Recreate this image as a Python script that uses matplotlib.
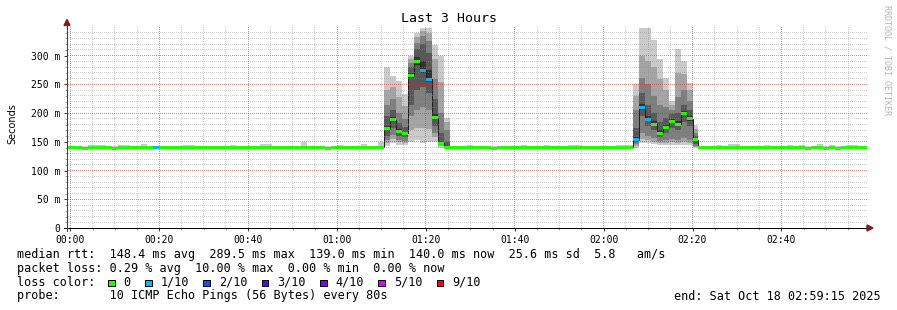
import matplotlib
matplotlib.use("Agg")
import numpy as np
import matplotlib.pyplot as plt
from matplotlib.patches import Rectangle, Polygon
from matplotlib.lines import Line2D
from matplotlib.ticker import FixedLocator

# ---------------- data ----------------
title = "Last 3 Hours"
y_label = "Seconds"
watermark = "RRDTOOL / TOBI OETIKER"

step_minutes = 80 / 60          # one RRD step = 80 s
first_step = -1                 # step index of first column (relative to 00:00)
x_range = (-0.75, 179.25)       # minutes after 00:00 (23:59:15 .. 02:59:15)
y_range = (0, 350)              # ms

x_tick_pos = [0, 20, 40, 60, 80, 100, 120, 140, 160]
x_tick_labels = ["00:00", "00:20", "00:40", "01:00", "01:20", "01:40", "02:00", "02:20", "02:40"]
y_tick_pos = [0, 50, 100, 150, 200, 250, 300]
y_tick_labels = ["0", "50 m", "100 m", "150 m", "200 m", "250 m", "300 m"]
y_minor_pos = [10, 20, 30, 40, 60, 70, 80, 90, 110, 120, 130, 140, 160, 170, 180, 190,
               210, 220, 230, 240, 260, 270, 280, 290, 310, 320, 330, 340]
x_minor_pos = [5, 10, 15, 25, 30, 35, 45, 50, 55, 65, 70, 75, 85, 90, 95, 105, 110, 115,
               125, 130, 135, 145, 150, 155, 165, 170, 175]

# median rtt per step (ms), steps -1 .. 134
median_ms = [
    140.3, 140.3, 140.3, 139.0, 140.3, 140.3, 140.3, 140.3, 139.0, 140.3,   # -1..8
    140.3, 140.3, 140.3, 140.3, 140.3, 139.8, 140.3, 140.3, 140.3, 140.3,   # 9..18
    140.3, 140.3, 140.3, 140.3, 140.3, 140.3, 140.3, 140.3, 140.3, 140.3,   # 19..28
    140.3, 140.3, 140.3, 140.3, 140.3, 140.3, 140.3, 140.3, 140.3, 140.3,   # 29..38
    140.3, 140.3, 140.3, 140.3, 139.0, 140.3, 140.3, 140.3, 140.3, 140.3,   # 39..48
    140.3, 140.3, 140.3, 140.3,                                             # 49..52
    172.7, 188.4, 168.0, 165.0, 265.7, 289.5, 274.4, 259.3, 192.4, 147.7, 140.7,  # 53..63
    140.3, 140.3, 140.3, 140.3, 140.3, 140.3, 140.3, 139.0, 140.3, 140.3,   # 64..73
    140.3, 140.3, 140.3, 140.3, 140.3, 140.3, 140.3, 140.3, 140.3, 140.3,   # 74..83
    140.3, 140.3, 140.3, 140.3, 140.3, 140.3, 140.3, 140.3, 140.3, 140.3, 140.3,  # 84..94
    153.5, 210.0, 189.6, 181.0, 165.2, 175.0, 185.4, 181.0, 199.0, 190.0, 153.5,  # 95..105
    140.3, 140.3, 140.3, 140.3, 140.3, 140.3, 140.3, 140.3, 140.3, 140.3,   # 106..115
    140.3, 140.3, 140.3, 140.3, 140.3, 140.3, 140.3, 140.3, 139.0, 140.3,   # 116..125
    140.3, 139.0, 140.3, 139.0, 140.3, 140.3, 140.3, 140.3, 140.0,          # 126..134
]

# lost pings (out of 10) for the steps that had any loss
lost_pings = {14: 1, 59: 1, 60: 1, 95: 1, 96: 1, 97: 1}

# quiet steps: lowest / highest ping (ms); None where the full ping table below is used
base_low = [
    138.5, 138.5, 138.4, 137.8, 138.5, 138.5, 138.5, 138.5, 137.8, 138.5,
    138.5, 138.5, 138.5, 138.5, 138.5, 138.3, 138.5, 138.5, 138.5, 138.5,
    138.5, 138.5, 138.5, 138.5, 138.5, 138.5, 138.5, 138.5, 138.5, 138.5,
    138.5, 138.5, 138.5, 138.5, 138.5, 138.5, 138.5, 138.5, 138.5, 138.5,
    138.5, 138.5, 138.5, 138.5, 137.8, 138.5, 138.5, 138.5, 138.5, 138.5,
    138.5, 138.5, 138.5, 138.5,
    None, None, None, None, None, None, None, None, None, None, None,
    138.5, 138.5, 138.5, 138.5, 138.5, 138.5, 138.5, 137.8, 138.5, 138.5,
    138.5, 138.5, 138.5, 138.5, 138.5, 138.5, 138.5, 138.5, 138.5, 138.5,
    138.5, 138.5, 138.5, 138.5, 138.5, 138.5, 138.5, 138.5, 138.5, 138.5, 138.5,
    None, None, None, None, None, None, None, None, None, None, None,
    138.5, 138.5, 138.5, 138.5, 138.5, 138.5, 138.5, 138.5, 138.5, 138.5,
    138.5, 138.5, 138.5, 138.5, 138.5, 138.5, 138.5, 138.5, 137.8, 138.5,
    138.5, 137.8, 138.5, 137.8, 138.5, 138.5, 138.5, 138.5, 138.5,
]
base_high = [
    142, 142, 142, 142, 145, 145, 145, 142, 142, 145,          # -1..8
    145, 142, 142, 146, 142, 142, 142, 142, 142, 142,          # 9..18
    144.5, 144.5, 142, 142, 142, 142, 142, 142, 145, 142,      # 19..28
    142, 142, 142, 147, 147, 142, 142, 142, 142, 142,          # 29..38
    149, 142, 142, 142, 142, 142, 145, 142, 142, 142,          # 39..48
    145.5, 142, 142, 149,                                      # 49..52
    None, None, None, None, None, None, None, None, None, None, None,
    142, 142, 142, 145, 142, 142, 142, 142, 142, 142,          # 64..73
    142, 142, 145, 142, 142, 142, 144.5, 142, 142, 142,        # 74..83
    145, 145, 142, 142, 142, 142, 142, 142, 145, 145, 145,     # 84..94
    None, None, None, None, None, None, None, None, None, None, None,
    142, 142, 142, 145, 142, 145.5, 145.5, 142, 142, 142,      # 106..115
    142, 144.5, 142, 142, 142, 145, 142, 144.5, 142, 142,      # 116..125
    145.5, 142, 144.5, 142, 142, 145, 145, 142, 142,           # 126..134
]

# busy steps: the 10 sorted ping times (ms)
spike_pings = {
    53: [143, 148, 153, 160, 170, 178, 195, 215, 240, 280],
    54: [148, 155, 162, 175, 185, 193, 205, 225, 245, 264],
    55: [145, 150, 154, 160, 165, 172, 182, 200, 228, 256],
    56: [144, 148, 152, 158, 162, 168, 176, 190, 212, 233],
    57: [150, 170, 195, 215, 262, 270, 280, 288, 295, 300],
    58: [153, 175, 205, 240, 284, 298, 312, 322, 332, 340],
    59: [148, 175, 210, 245, 270, 290, 320, 335, 343, 348],
    60: [150, 172, 205, 235, 255, 275, 305, 325, 340, 348],
    61: [150, 158, 166, 178, 189, 198, 225, 260, 295, 319],
    62: [140, 142, 144, 146, 147, 150, 165, 200, 255, 300],
    63: [139, 139.5, 140, 140.3, 140.5, 142, 150, 170, 185, 191],
    95: [140, 143, 146, 150, 152, 158, 175, 205, 230, 250],
    96: [148, 155, 165, 195, 206, 216, 235, 262, 300, 348],
    97: [148, 153, 160, 178, 186, 195, 215, 250, 290, 348],
    98: [146, 150, 156, 170, 178, 186, 200, 230, 280, 328],
    99: [144, 148, 152, 158, 163, 170, 185, 215, 260, 295],
    100: [144, 148, 153, 166, 172, 180, 192, 210, 240, 262],
    101: [145, 149, 155, 174, 182, 190, 198, 206, 214, 222],
    102: [144, 148, 153, 170, 178, 186, 200, 228, 270, 312],
    103: [145, 150, 156, 185, 196, 204, 215, 240, 268, 290],
    104: [144, 148, 154, 178, 187, 195, 205, 222, 240, 252],
    105: [140, 141, 142, 146, 151, 156, 160, 165, 172, 180],
}

loss_labels = ["0", "1/10", "2/10", "3/10", "4/10", "5/10", "9/10"]
loss_colors = ["#26ff00", "#00b8ff", "#0059ff", "#5e00ff", "#7e00ff", "#dd00ff", "#ff0000"]
loss_bucket = {0: 0, 1: 1, 2: 2, 3: 3, 4: 4, 5: 5, 6: 5, 7: 5, 8: 5, 9: 6, 10: 6}

line_rtt = "median rtt:  148.4 ms avg  289.5 ms max  139.0 ms min  140.0 ms now  25.6 ms sd  5.8   am/s"
line_loss = "packet loss: 0.29 % avg  10.00 % max  0.00 % min  0.00 % now"
line_color = "loss color:"
line_probe = "probe:       10 ICMP Echo Pings (56 Bytes) every 80s"
line_end = "end: Sat Oct 18 02:59:15 2025"

# ---------------- layout ----------------
W, H, DPI = 897, 310, 100
MONO = "DejaVu Sans Mono"
AX_L, AX_R, AX_T, AX_B = 67, 867, 27, 228
CW = 0.6021 * 8.5 / 72 * DPI     # mono char advance at 8.5 pt
MINOR_DOT = (np.array([140.0, 140.0, 140.0]), 0.42)
MAJOR_DOT = (np.array([220.0, 30.0, 30.0]), 0.52)

def fx(px):
    return px / W

def fy(py):
    return 1 - py / H

fig = plt.figure(figsize=(W / DPI, H / DPI), dpi=DPI)
fig.patch.set_facecolor("white")
ax = fig.add_axes([fx(AX_L), fy(AX_B), (AX_R - AX_L) / W, (AX_B - AX_T) / H])
ax.set_facecolor("white")
ax.set_xlim(*x_range)
ax.set_ylim(*y_range)
for s in ax.spines.values():
    s.set_visible(False)

steps = list(range(first_step, first_step + len(median_ms)))
x_start = [k * step_minutes for k in steps]

smoke_cols = []
for ibot in range(1, 6):
    c = int(190 / 5 * (5 - ibot)) + 50
    smoke_cols.append("#%02x%02x%02x" % (c, c, c))

# quiet-step smoke
bx, bb, bh = [], [], []
for xs, lo, hi in zip(x_start, base_low, base_high):
    if lo is None:
        continue
    bx.append(xs); bb.append(lo); bh.append(hi - lo)
ax.bar(bx, bh, bottom=bb, width=step_minutes, align="edge", color=smoke_cols[0],
       linewidth=0, antialiased=False, zorder=1)

# busy-step smoke, stacked bands from outer (light) to inner (dark)
sk = list(spike_pings.keys())
for band in range(5):
    xs = [k * step_minutes for k in sk]
    lo = [spike_pings[k][band] for k in sk]
    hi = [spike_pings[k][9 - band] for k in sk]
    ax.bar(xs, [h - l for h, l in zip(hi, lo)], bottom=lo, width=step_minutes, align="edge",
           color=smoke_cols[band], linewidth=0, antialiased=False, zorder=1 + band * 0.01)

# thin dark median line
edges = x_start + [x_start[-1] + step_minutes]
ax.stairs(median_ms, edges, baseline=None, color="#202020", linewidth=0.72, zorder=2)

# loss-coloured median band
half = 1.5 / ((AX_B - AX_T) / (y_range[1] - y_range[0]))
cols = [loss_colors[loss_bucket[lost_pings.get(k, 0)]] for k in steps]
ax.bar(x_start, [2 * half] * len(steps), bottom=[m - half for m in median_ms],
       width=step_minutes, align="edge", color=cols, linewidth=0, antialiased=False, zorder=3)

# ticks
ax.xaxis.set_major_locator(FixedLocator(x_tick_pos))
ax.set_xticklabels(x_tick_labels)
ax.xaxis.set_minor_locator(FixedLocator(x_minor_pos))
ax.yaxis.set_major_locator(FixedLocator(y_tick_pos))
ax.set_yticklabels(y_tick_labels)
ax.yaxis.set_minor_locator(FixedLocator(y_minor_pos))
ax.grid(False)
ax.tick_params(which="major", length=2.2, width=0.72, color="#404040", direction="out")
ax.tick_params(which="minor", length=1.4, width=0.72, color="#a0a0a0", direction="out")
ax.tick_params(axis="x", which="major", pad=2.5, labelsize=7)
ax.tick_params(axis="y", which="major", pad=2.4, labelsize=7)
for lab in ax.get_xticklabels() + ax.get_yticklabels():
    lab.set_fontfamily(MONO)
    lab.set_color("black")

# axis lines with arrows
fig.add_artist(Line2D([fx(63.5), fx(869)], [fy(AX_B)] * 2, color="black", linewidth=0.72, zorder=6))
fig.add_artist(Line2D([fx(AX_L)] * 2, [fy(231), fy(23)], color="#404040", linewidth=0.72, zorder=6))
arrow_col = "#7f1d1d"
fig.add_artist(Polygon([[fx(867), fy(AX_B - 3)], [fx(867), fy(AX_B + 3)], [fx(873), fy(AX_B)]],
                       closed=True, color=arrow_col, transform=fig.transFigure, zorder=6))
fig.add_artist(Polygon([[fx(AX_L - 3), fy(25.5)], [fx(AX_L + 3), fy(25.5)], [fx(AX_L), fy(19.5)]],
                       closed=True, color=arrow_col, transform=fig.transFigure, zorder=6))

# titles
fig.text(fx(448.5), fy(19), title, ha="center", va="center", family=MONO, size=9.5)
fig.text(fx(12), fy(124), y_label, rotation=90, ha="center", va="center",
         family="DejaVu Sans", size=7)
fig.text(fx(887), fy(60), watermark, rotation=270, ha="center", va="center",
         family=MONO, size=6, color="#b4b4b4")

# legend block
LX = 16.5
fig.text(fx(LX), fy(258.3), line_rtt, family=MONO, size=8.5, va="baseline")
fig.text(fx(LX), fy(271.9), line_loss, family=MONO, size=8.5, va="baseline")
fig.text(fx(LX), fy(285.9), line_color, family=MONO, size=8.5, va="baseline")
fig.text(fx(LX), fy(299.5), line_probe, family=MONO, size=8.5, va="baseline")
fig.text(fx(881), fy(299.5), line_end, family=MONO, size=8.5, va="baseline", ha="right")

bx0 = LX + 13 * CW - 1
for lab, col in zip(loss_labels, loss_colors):
    fig.add_artist(Rectangle((fx(bx0), fy(286.2)), 6.7 / W, 6.7 / H, facecolor=col,
                             edgecolor="black", linewidth=0.72, transform=fig.transFigure))
    tx = bx0 + 15.7
    fig.text(fx(tx), fy(285.9), lab, family=MONO, size=8.5, va="baseline")
    bx0 = tx + (len(lab) + 2) * CW

# render, then lay the pixel-exact dotted rrdtool grid over the graph area
fig.canvas.draw()
img = np.asarray(fig.canvas.buffer_rgba())[..., :3].astype(float).copy()
ih = img.shape[0]
x0p, y0p = ax.transData.transform((x_range[0], y_range[0]))
x1p, y1p = ax.transData.transform((x_range[1], y_range[1]))
col_lo, col_hi = int(round(x0p)), int(round(x1p))
top_row = ih - int(round(y1p))
bot_row = ih - int(round(y0p))

def blend(sl, dot):
    rgb, a = dot
    img[sl] = img[sl] * (1 - a) + rgb * a

def vgrid(xv, dot):
    c = int(np.floor(ax.transData.transform((xv, 0))[0]))
    blend((slice(bot_row - 1, top_row - 1, -2), c), dot)

def hgrid(yv, dot):
    r = ih - 1 - int(np.floor(ax.transData.transform((0, yv))[1]))
    blend((r, slice(col_lo + 1, col_hi, 2)), dot)

for xv in x_minor_pos:
    vgrid(xv, MINOR_DOT)
for yv in y_minor_pos:
    hgrid(yv, MINOR_DOT)
for xv in x_tick_pos:
    vgrid(xv, MAJOR_DOT)
for yv in y_tick_pos[1:]:
    hgrid(yv, MAJOR_DOT)

plt.imsave("out.png", np.clip(img, 0, 255).astype(np.uint8))
